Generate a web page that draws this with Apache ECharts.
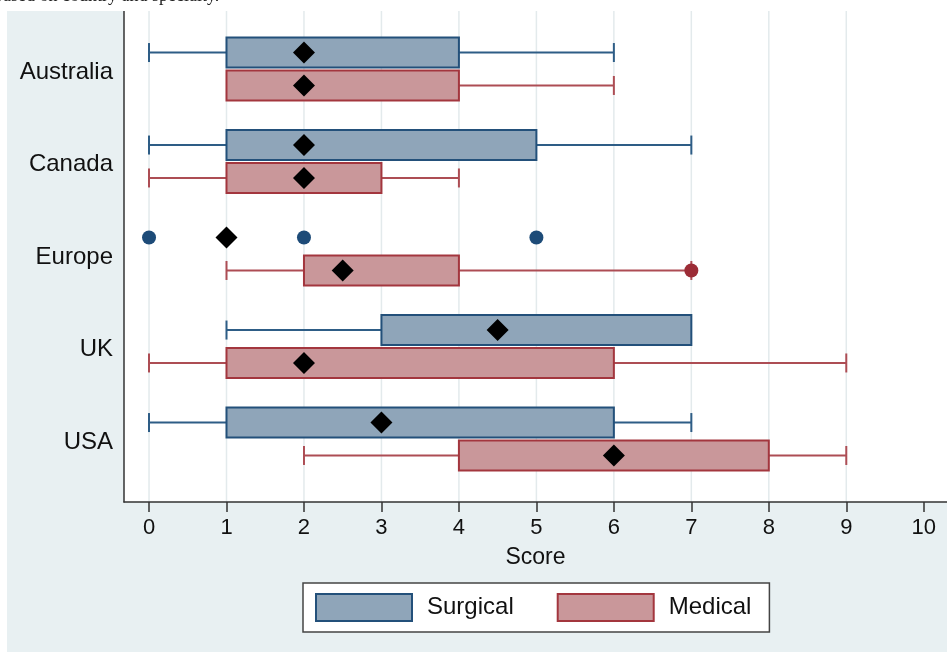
<!DOCTYPE html>
<html>
<head>
<meta charset="utf-8">
<script src="https://cdn.jsdelivr.net/npm/echarts@6/dist/echarts.min.js"></script>
<style>
  html, body { margin: 0; padding: 0; background: #fff; }
  #chart { width: 947px; height: 652px; }
</style>
</head>
<body>
<div id="chart"></div>
<script>
// data
const countries = ['Australia', 'Canada', 'Europe', 'UK', 'USA'];
const xTicks = [0, 1, 2, 3, 4, 5, 6, 7, 8, 9, 10];
const gridValues = [0, 1, 2, 3, 4, 5, 6, 7, 8, 9];

// [lower whisker, q1, q3, upper whisker] per country
const surgicalBox = [[0, 1, 4, 6], [0, 1, 5, 7], [1, 1, 1, 1], [1, 3, 7, 7], [0, 1, 6, 7]];
const medicalBox = [[1, 1, 4, 6], [0, 1, 3, 4], [1, 2, 4, 7], [0, 1, 6, 9], [2, 4, 8, 9]];
// diamond markers
const surgicalMark = [2, 2, 1, 4.5, 3];
const medicalMark = [2, 2, 2.5, 2, 6];
// outside values: [country index, score]
const surgicalOut = [[2, 0], [2, 2], [2, 5]];
const medicalOut = [[2, 7]];

const OFF = 0.178;   // row offset of each group
const HALF = 0.162;  // half box height, axis units
const CAP = 9.5;     // whisker cap half height, px
const LABEL_SHIFT = 0.035; // country labels sit a little below the row centre

const C = {
  surgical: { fill: '#8fa5b9', border: '#23507a', line: '#2e5d86', dot: '#1d4b78' },
  medical: { fill: '#c9979a', border: '#a3363e', line: '#ad4d54', dot: '#9c2c36' }
};

function boxData(arr) {
  return arr.map((b, i) => [b[0], b[1], b[2], b[3], i]);
}

function makeRender(off, col) {
  return function (params, api) {
    const lo = api.value(0), q1 = api.value(1), q3 = api.value(2), hi = api.value(3);
    const y = api.value(4) + off;
    const pLo = api.coord([lo, y]);
    const pQ1 = api.coord([q1, y]);
    const pQ3 = api.coord([q3, y]);
    const pHi = api.coord([hi, y]);
    const h = api.size([0, HALF])[1];
    const cy = pLo[1];
    const lineStyle = { stroke: col.line, lineWidth: 2, fill: null };
    const children = [];
    if (lo < q1) {
      children.push({ type: 'line', shape: { x1: pLo[0], y1: cy, x2: pQ1[0], y2: cy }, style: lineStyle });
      children.push({ type: 'line', shape: { x1: pLo[0], y1: cy - CAP, x2: pLo[0], y2: cy + CAP }, style: lineStyle });
    }
    if (hi > q3) {
      children.push({ type: 'line', shape: { x1: pQ3[0], y1: cy, x2: pHi[0], y2: cy }, style: lineStyle });
      children.push({ type: 'line', shape: { x1: pHi[0], y1: cy - CAP, x2: pHi[0], y2: cy + CAP }, style: lineStyle });
    }
    if (q3 > q1) {
      children.push({
        type: 'rect',
        shape: { x: pQ1[0], y: cy - h, width: pQ3[0] - pQ1[0], height: 2 * h },
        style: { fill: col.fill, stroke: col.border, lineWidth: 2 }
      });
    }
    return { type: 'group', children: children };
  };
}

const chart = echarts.init(document.getElementById('chart'));

const option = {
  backgroundColor: '#e8f0f2',
  animation: false,
  graphic: [
    { type: 'rect', left: 0, top: 0, shape: { width: 947, height: 11 }, style: { fill: '#fff' }, z: 100 },
    { type: 'rect', left: 0, top: 0, shape: { width: 7, height: 652 }, style: { fill: '#fff' }, z: 100 },
    {
      type: 'text', left: -6, top: -13, z: 101,
      style: { text: 'based on country and specialty.', font: '18px "Liberation Serif"', fill: '#222' }
    }
  ],
  grid: {
    left: 124, top: 11, right: 0, bottom: 150,
    show: true, backgroundColor: '#fff', borderWidth: 0
  },
  legend: {
    left: 303, top: 583,
    padding: [10, 18, 10, 12],
    itemWidth: 96, itemHeight: 27, itemGap: 43,
    backgroundColor: '#fff', borderColor: '#444', borderWidth: 1.5, borderRadius: 0,
    textStyle: { fontFamily: 'Liberation Sans', fontSize: 24, color: '#111', padding: [0, 0, 0, 10] },
    selectedMode: false,
    data: [
      { name: 'Surgical', icon: 'rect', itemStyle: { color: C.surgical.fill, borderColor: C.surgical.border, borderWidth: 2 } },
      { name: 'Medical', icon: 'rect', itemStyle: { color: C.medical.fill, borderColor: C.medical.border, borderWidth: 2 } }
    ]
  },
  xAxis: {
    type: 'value', min: -0.323, max: 10.3,
    name: 'Score', nameLocation: 'middle', nameGap: 44,
    nameTextStyle: { fontFamily: 'Liberation Sans', fontSize: 23, color: '#111' },
    axisLine: { show: true, onZero: false, lineStyle: { color: '#333', width: 1.5 } },
    axisTick: { show: true, customValues: xTicks, length: 10, lineStyle: { color: '#333', width: 1.5 } },
    axisLabel: { customValues: xTicks, margin: 15, fontFamily: 'Liberation Sans', fontSize: 22, color: '#111' },
    splitLine: { show: false }
  },
  yAxis: {
    type: 'value', inverse: true, min: -0.627, max: 4.681,
    axisLine: { show: true, onZero: false, lineStyle: { color: '#333', width: 1.5 } },
    axisTick: { show: false },
    axisLabel: {
      customValues: countries.map((c, i) => i + LABEL_SHIFT), margin: 11,
      fontFamily: 'Liberation Sans', fontSize: 24, color: '#111',
      formatter: v => countries[Math.round(v)]
    },
    splitLine: { show: false }
  },
  series: [
    {
      name: 'grid', type: 'custom', silent: true, z: 0,
      data: gridValues,
      renderItem: function (params, api) {
        const x = api.coord([api.value(0), 0])[0];
        const cs = params.coordSys;
        return { type: 'line', shape: { x1: x, y1: cs.y, x2: x, y2: cs.y + cs.height }, style: { stroke: '#e3eaec', lineWidth: 1.5 } };
      },
      encode: { x: 0 }
    },
    {
      name: 'Surgical', type: 'custom', z: 2,
      itemStyle: { color: C.surgical.fill },
      data: boxData(surgicalBox),
      encode: { x: [0, 1, 2, 3], y: 4 },
      renderItem: makeRender(-OFF, C.surgical)
    },
    {
      name: 'Medical', type: 'custom', z: 2,
      itemStyle: { color: C.medical.fill },
      data: boxData(medicalBox),
      encode: { x: [0, 1, 2, 3], y: 4 },
      renderItem: makeRender(OFF, C.medical)
    },
    {
      name: 'sOut', type: 'scatter', z: 3, symbol: 'circle', symbolSize: 14,
      itemStyle: { color: C.surgical.dot, opacity: 1 },
      data: surgicalOut.map(d => [d[1], d[0] - OFF])
    },
    {
      name: 'mOut', type: 'scatter', z: 3, symbol: 'circle', symbolSize: 14,
      itemStyle: { color: C.medical.dot, opacity: 1 },
      data: medicalOut.map(d => [d[1], d[0] + OFF])
    },
    {
      name: 'sMark', type: 'scatter', z: 4, symbol: 'diamond', symbolSize: 22,
      itemStyle: { color: '#000', opacity: 1 },
      data: surgicalMark.map((v, i) => [v, i - OFF])
    },
    {
      name: 'mMark', type: 'scatter', z: 4, symbol: 'diamond', symbolSize: 22,
      itemStyle: { color: '#000', opacity: 1 },
      data: medicalMark.map((v, i) => [v, i + OFF])
    }
  ]
};

chart.setOption(option);
</script>
</body>
</html>
